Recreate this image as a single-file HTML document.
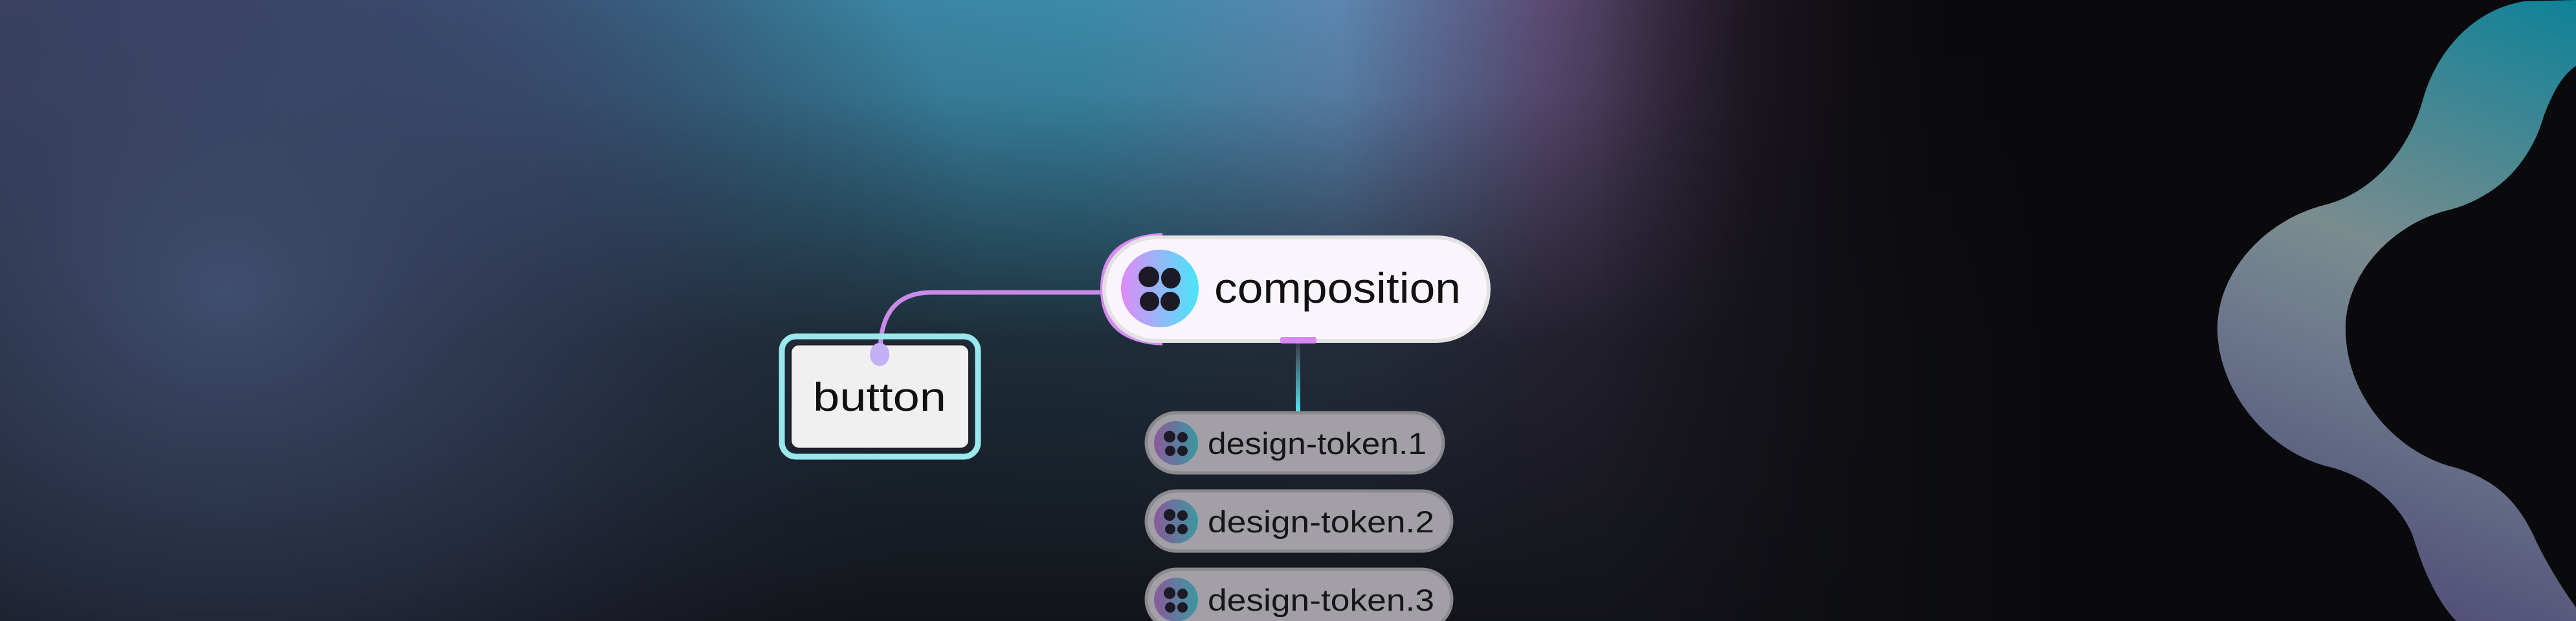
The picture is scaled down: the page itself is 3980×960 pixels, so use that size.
<!DOCTYPE html>
<html><head><meta charset="utf-8"><style>
html,body{margin:0;padding:0;background:#0a0a0d;}
svg{display:block}
text{font-family:"Liberation Sans",sans-serif;}
</style></head><body>
<svg width="3980" height="960" viewBox="0 0 3980 960" xmlns="http://www.w3.org/2000/svg">
<defs>
<linearGradient id="top" x1="0" y1="0" x2="3980" y2="0" gradientUnits="userSpaceOnUse">
<stop offset="0" stop-color="#4a4e76"/>
<stop offset="0.1" stop-color="#4b5886"/>
<stop offset="0.2" stop-color="#4a6a98"/>
<stop offset="0.3" stop-color="#3c82a2"/>
<stop offset="0.42" stop-color="#3a8aa8"/>
<stop offset="0.52" stop-color="#5c86b0"/>
<stop offset="0.6" stop-color="#5a4a72"/>
<stop offset="0.68" stop-color="#261c2a"/>
<stop offset="0.75" stop-color="#0c0b0f"/>
<stop offset="1" stop-color="#09090b"/>
</linearGradient>
<linearGradient id="fade" x1="0" y1="0" x2="0" y2="1">
<stop offset="0" stop-color="#15161d" stop-opacity="0"/>
<stop offset="0.15" stop-color="#15161d" stop-opacity="0.1"/>
<stop offset="0.55" stop-color="#15161d" stop-opacity="0.8"/>
<stop offset="1" stop-color="#13141a" stop-opacity="1"/>
</linearGradient>
<radialGradient id="left" cx="350" cy="450" r="1300" gradientUnits="userSpaceOnUse" gradientTransform="translate(350 450) scale(0.9 0.75) translate(-350 -450)">
<stop offset="0" stop-color="#405070" stop-opacity="0.95"/>
<stop offset="0.5" stop-color="#2e3852" stop-opacity="0.6"/>
<stop offset="1" stop-color="#1a1d28" stop-opacity="0"/>
</radialGradient>
<linearGradient id="rightdark" x1="0" y1="0" x2="3980" y2="0" gradientUnits="userSpaceOnUse">
<stop offset="0.62" stop-color="#0a0a0d" stop-opacity="0"/>
<stop offset="0.8" stop-color="#0a0a0d" stop-opacity="1"/>
</linearGradient>
<linearGradient id="shape" x1="3980" y1="0" x2="3600" y2="960" gradientUnits="userSpaceOnUse">
<stop offset="0" stop-color="#0e8298"/>
<stop offset="0.45" stop-color="#7a8c8e"/>
<stop offset="0.6" stop-color="#6e7c8e"/>
<stop offset="1" stop-color="#4d4773"/>
</linearGradient>
<linearGradient id="icon" x1="0" y1="0" x2="1" y2="0">
<stop offset="0" stop-color="#e08af8"/>
<stop offset="1" stop-color="#48e6f8"/>
</linearGradient>
<linearGradient id="iconS" x1="0" y1="0" x2="1" y2="0">
<stop offset="0" stop-color="#8a5a9a"/>
<stop offset="1" stop-color="#3a98a0"/>
</linearGradient>
<linearGradient id="vline" x1="0" y1="0" x2="0" y2="1">
<stop offset="0" stop-color="#3a3d48"/>
<stop offset="1" stop-color="#50e6f2"/>
</linearGradient>
</defs>
<rect width="3980" height="960" fill="url(#top)"/>
<rect width="3980" height="960" fill="url(#fade)"/>
<rect width="3980" height="960" fill="url(#left)"/>
<rect width="3980" height="960" fill="url(#rightdark)"/>

<!-- right shape -->
<path fill="url(#shape)" d="M3980 0 L3900 2 C3820 15 3765 80 3744 152 C3720 240 3660 300 3591 317 C3500 340 3426 420 3426 508 C3426 600 3500 700 3604 723 C3680 745 3720 800 3731 838 C3750 900 3775 940 3795 960 L3980 960 L3980 939 C3955 905 3935 870 3920 840 C3890 770 3850 740 3794 723 C3700 700 3624 610 3624 508 C3624 420 3700 345 3782 325 C3860 305 3910 250 3930 180 C3945 140 3960 115 3980 102 Z"/>

<!-- connector composition -> button -->
<path d="M1702 452 L1440 452 Q1362 452 1360 540" fill="none" stroke="#c98ae8" stroke-width="7"/>
<!-- button -->
<rect x="1208" y="520" width="303" height="186" rx="22" fill="none" stroke="#98e8ee" stroke-width="9"/>
<rect x="1222" y="533" width="275" height="160" rx="12" fill="#f0f0f0" stroke="#1c1c22" stroke-width="2"/>
<ellipse cx="1359" cy="548" rx="15" ry="18" fill="#c4b0f4"/>
<text x="1256" y="635" font-size="62" textLength="206" lengthAdjust="spacingAndGlyphs" fill="#111">button</text>

<!-- composition -->
<path d="M1796 360 L1796 367 Q1712 380 1706 446 Q1712 520 1796 528 L1796 534 Q1700 530 1700 446 Q1700 365 1796 360 Z" fill="#d68af4"/>
<rect x="1706" y="367" width="594" height="160" rx="80" fill="#faf5fc" stroke="#e2e2e2" stroke-width="6"/>
<rect x="1978" y="521" width="56" height="10" rx="3" fill="#d68af4"/>
<circle cx="1792" cy="446" r="60" fill="url(#icon)"/>
<ellipse cx="1775" cy="428" rx="16" ry="16" fill="#1c1a24"/>
<ellipse cx="1809" cy="430" rx="15" ry="16" fill="#1c1a24"/>
<ellipse cx="1776" cy="466" rx="15" ry="15" fill="#1c1a24"/>
<ellipse cx="1808" cy="466" rx="15" ry="15" fill="#1c1a24"/>
<text x="1876" y="468" font-size="66" textLength="381" lengthAdjust="spacingAndGlyphs" fill="#111">composition</text>

<!-- vertical connector -->
<rect x="2002" y="531" width="7" height="106" fill="url(#vline)"/>

<!-- tokens -->
<g>
<rect x="1771" y="638" width="459" height="93" rx="46.5" fill="#a2a0a6" stroke="#8a898e" stroke-width="5"/>
<circle cx="1817" cy="685" r="34" fill="url(#iconS)"/>
<circle cx="1807" cy="675" r="9" fill="#1c1a24"/><circle cx="1827" cy="676" r="8" fill="#1c1a24"/>
<circle cx="1808" cy="697" r="8" fill="#1c1a24"/><circle cx="1827" cy="697" r="8" fill="#1c1a24"/>
<text x="1866" y="702" font-size="47" textLength="338" lengthAdjust="spacingAndGlyphs" fill="#161616">design-token.1</text>
</g>
<g>
<rect x="1771" y="759" width="472" height="93" rx="46.5" fill="#a2a0a6" stroke="#8a898e" stroke-width="5"/>
<circle cx="1817" cy="806" r="34" fill="url(#iconS)"/>
<circle cx="1807" cy="796" r="9" fill="#1c1a24"/><circle cx="1827" cy="797" r="8" fill="#1c1a24"/>
<circle cx="1808" cy="818" r="8" fill="#1c1a24"/><circle cx="1827" cy="818" r="8" fill="#1c1a24"/>
<text x="1866" y="823" font-size="47" textLength="350" lengthAdjust="spacingAndGlyphs" fill="#161616">design-token.2</text>
</g>
<g>
<rect x="1771" y="880" width="472" height="93" rx="46.5" fill="#a2a0a6" stroke="#8a898e" stroke-width="5"/>
<circle cx="1817" cy="927" r="34" fill="url(#iconS)"/>
<circle cx="1807" cy="917" r="9" fill="#1c1a24"/><circle cx="1827" cy="918" r="8" fill="#1c1a24"/>
<circle cx="1808" cy="939" r="8" fill="#1c1a24"/><circle cx="1827" cy="939" r="8" fill="#1c1a24"/>
<text x="1866" y="944" font-size="47" textLength="350" lengthAdjust="spacingAndGlyphs" fill="#161616">design-token.3</text>
</g>
</svg>
</body></html>
